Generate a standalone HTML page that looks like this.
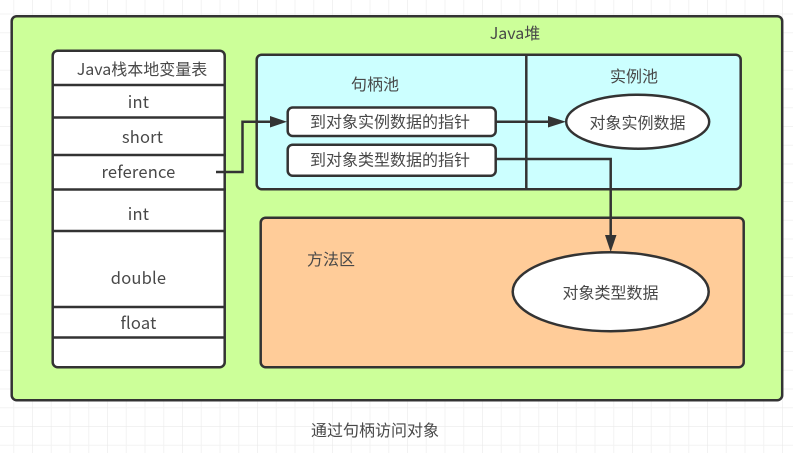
<!DOCTYPE html>
<html><head><meta charset="utf-8">
<style>
html,body{margin:0;padding:0;background:#fff;width:793px;height:453px;overflow:hidden}
svg{display:block}
text{font-family:"Noto Sans CJK SC","Liberation Sans",sans-serif;font-size:16px;fill:#484848;text-anchor:middle}
text.l{font-size:16.5px;letter-spacing:.2px}
</style></head><body>
<svg width="793" height="453" viewBox="0 0 793 453" xmlns="http://www.w3.org/2000/svg">
<defs>
<pattern id="g" width="75" height="75" patternUnits="userSpaceOnUse" x="-42.5" y="-23.5">
<path d="M18.75 0V75M37.5 0V75M56.25 0V75M0 18.75H75M0 37.5H75M0 56.25H75" stroke="#f3f3f3" stroke-width="1" fill="none"/>
<path d="M75 0V75M0 75H75" stroke="#e6e6e6" stroke-width="1" fill="none"/>
</pattern>
</defs>
<rect width="793" height="453" fill="url(#g)"/>
<g stroke="#333" stroke-width="2.5">
<rect x="11.7" y="16.2" width="770.5" height="384" rx="5" fill="#ccff99"/>
<rect x="52.7" y="50.7" width="172" height="316.5" rx="5" fill="#fff"/>
<path d="M53 85H224M53 117.5H224M53 155H226M53 189.5H226M53 231H224M53 307H224M53 337.5H224" fill="none"/>
<rect x="256.7" y="54.7" width="484" height="134.5" rx="5" fill="#ccffff"/>
<path d="M526.3 55V189" fill="none"/>
<rect x="260.7" y="217.7" width="483" height="149.5" rx="5" fill="#ffcc99"/>
<rect x="287.7" y="107.5" width="208" height="28.5" rx="5" fill="#fff"/>
<rect x="287.7" y="144.7" width="208" height="31" rx="5" fill="#fff"/>
<ellipse cx="637.7" cy="121.7" rx="71.5" ry="27" fill="#fff"/>
<ellipse cx="610.7" cy="291.7" rx="98" ry="39.5" fill="#fff"/>
<path d="M216 172H242.5V121.7H272M496 121.7H550M496 159H610.7V237" fill="none"/>
</g>
<g fill="#333">
<path d="M287 121.7L270 116V127.5Z"/>
<path d="M566 121.7L548 116V127.5Z"/>
<path d="M610.7 252L605 235H616.5Z"/>
</g>
<text x="515" y="39">Java堆</text>
<text x="142" y="75">Java栈本地变量表</text>
<text class="l" x="138.5" y="108">int</text>
<text class="l" x="142.5" y="143">short</text>
<text class="l" x="138.5" y="178">reference</text>
<text class="l" x="138.5" y="220">int</text>
<text class="l" x="138.5" y="284">double</text>
<text class="l" x="138.5" y="329">float</text>
<text x="375" y="90">句柄池</text>
<text x="634" y="82">实例池</text>
<text x="390" y="127.5">到对象实例数据的指针</text>
<text x="390" y="165.5">到对象类型数据的指针</text>
<text x="637.5" y="128.5">对象实例数据</text>
<text x="610.5" y="298.5">对象类型数据</text>
<text x="331" y="265">方法区</text>
<text x="375" y="436">通过句柄访问对象</text>
</svg>
</body></html>
